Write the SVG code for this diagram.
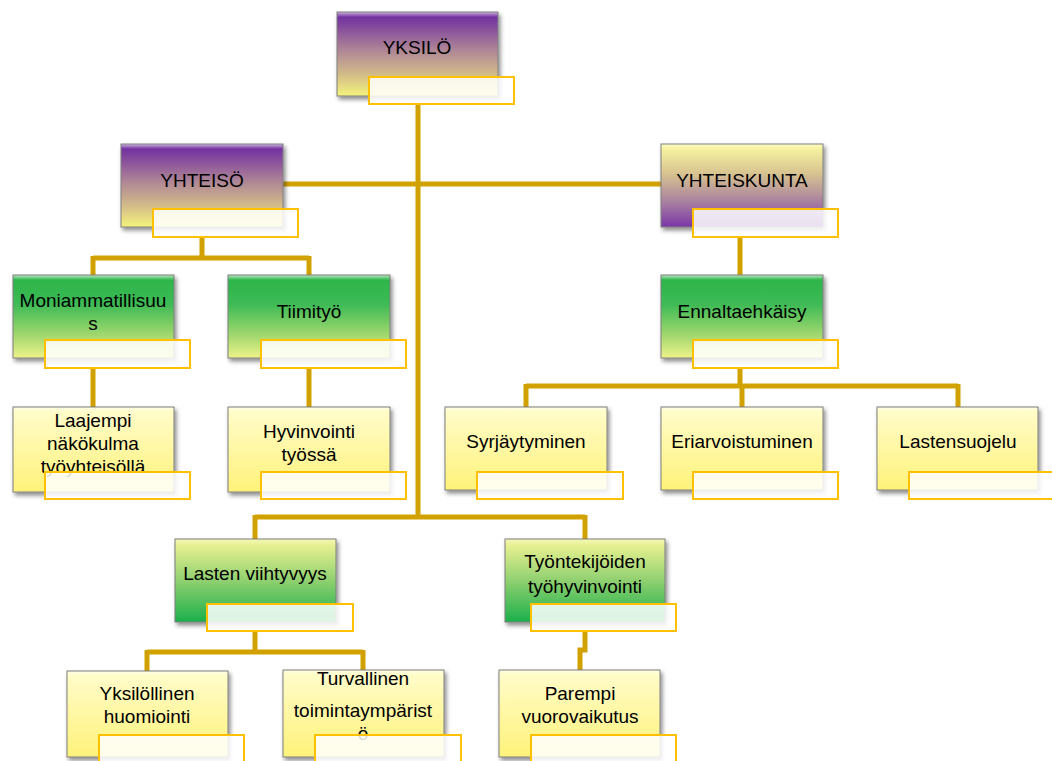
<svg xmlns="http://www.w3.org/2000/svg" width="1052" height="761" viewBox="0 0 1052 761">
<defs>
<linearGradient id="gPurDown" x1="0" y1="0" x2="0" y2="1">
<stop offset="0" stop-color="#CDB4DE"/><stop offset="0.06" stop-color="#7331A0"/><stop offset="0.45" stop-color="#AE8596"/><stop offset="0.75" stop-color="#D4BD88"/><stop offset="1" stop-color="#F4F47C"/>
</linearGradient>
<linearGradient id="gPurUp" x1="0" y1="0" x2="0" y2="1">
<stop offset="0" stop-color="#FCFBC4"/><stop offset="0.06" stop-color="#F6F2A0"/><stop offset="0.35" stop-color="#D8C490"/><stop offset="0.7" stop-color="#A880A0"/><stop offset="1" stop-color="#7A36A8"/>
</linearGradient>
<linearGradient id="gGrnDown" x1="0" y1="0" x2="0" y2="1">
<stop offset="0" stop-color="#BCE9C2"/><stop offset="0.06" stop-color="#2DB54A"/><stop offset="0.35" stop-color="#3DBA55"/><stop offset="0.75" stop-color="#A8DA70"/><stop offset="1" stop-color="#EEF38A"/>
</linearGradient>
<linearGradient id="gGrnUp" x1="0" y1="0" x2="0" y2="1">
<stop offset="0" stop-color="#F6F8B8"/><stop offset="0.08" stop-color="#E6F090"/><stop offset="0.5" stop-color="#90D070"/><stop offset="1" stop-color="#1AB04A"/>
</linearGradient>
<linearGradient id="gYel" x1="0" y1="0" x2="0" y2="1">
<stop offset="0" stop-color="#FFFEE4"/><stop offset="0.06" stop-color="#FFFCC8"/><stop offset="1" stop-color="#FFF27A"/>
</linearGradient>
<filter id="sh" x="-10%" y="-10%" width="125%" height="130%">
<feDropShadow dx="2" dy="3" stdDeviation="2" flood-color="#000" flood-opacity="0.45"/>
</filter>
</defs>
<style>
.box{stroke:#7F7F7F;stroke-width:1;filter:url(#sh)}
.pd{fill:url(#gPurDown)}
.pu{fill:url(#gPurUp)}
.gd{fill:url(#gGrnDown)}
.gu{fill:url(#gGrnUp)}
.ye{fill:url(#gYel)}
.lab{fill:#FFFFFF;fill-opacity:0.85;stroke:#FFC000;stroke-width:2}
.t{font-family:"Liberation Sans",Arial,sans-serif;font-size:19px;fill:#000;text-anchor:middle}
.c{fill:none;stroke:#D1A100;stroke-width:5;stroke-linejoin:miter}
</style>
<rect width="1052" height="761" fill="#FFFFFF"/>
<g id="connectors">
<path class="c" d="M418,104 V517"/>
<path class="c" d="M283,184 H661"/>
<path class="c" d="M202,237 V258 M93,258 H309 M93,256 V275 M309,256 V275"/>
<path class="c" d="M93,368 V407 M309,368 V407"/>
<path class="c" d="M740,237 V275"/>
<path class="c" d="M740,368 V386 M526,386 H958 M526,384 V407 M742,384 V407 M958,384 V407"/>
<path class="c" d="M255,517 H585 M255,515 V539 M585,515 V539"/>
<path class="c" d="M255,631 V652 M147,652 H363 M147,650 V671 M363,650 V671"/>
<path class="c" d="M585,631 V650 H580 V670"/>
</g>
<g id="yksilo">
<rect class="box pd" x="337" y="12" width="161" height="84"/>
<text class="t" x="417" y="54">YKSILÖ</text>
<rect class="lab" x="369" y="77" width="145" height="27"/>
</g>
<g id="yhteiso">
<rect class="box pd" x="121" y="144" width="162" height="83"/>
<text class="t" x="202" y="187">YHTEISÖ</text>
<rect class="lab" x="153" y="209" width="145" height="28"/>
</g>
<g id="yhteiskunta">
<rect class="box pu" x="661" y="144" width="162" height="83"/>
<text class="t" x="742" y="187">YHTEISKUNTA</text>
<rect class="lab" x="693" y="209" width="145" height="28"/>
</g>
<g id="moniammatillisuus">
<rect class="box gd" x="13" y="275" width="161" height="83"/>
<text class="t" x="93" y="307">Moniammatillisuu</text>
<text class="t" x="93" y="330">s</text>
<rect class="lab" x="45" y="340" width="145" height="28"/>
</g>
<g id="tiimityo">
<rect class="box gd" x="228" y="275" width="162" height="83"/>
<text class="t" x="309" y="318">Tiimityö</text>
<rect class="lab" x="261" y="340" width="145" height="28"/>
</g>
<g id="ennaltaehkaisy">
<rect class="box gd" x="661" y="275" width="162" height="83"/>
<text class="t" x="742" y="318">Ennaltaehkäisy</text>
<rect class="lab" x="693" y="340" width="145" height="28"/>
</g>
<g id="laajempi">
<rect class="box ye" x="13" y="407" width="161" height="85"/>
<text class="t" x="93" y="427">Laajempi</text>
<text class="t" x="93" y="450">näkökulma</text>
<text class="t" x="93" y="473">työyhteisöllä</text>
<rect class="lab" x="45" y="472" width="145" height="27"/>
</g>
<g id="hyvinvointi">
<rect class="box ye" x="228" y="407" width="162" height="85"/>
<text class="t" x="309" y="438">Hyvinvointi</text>
<text class="t" x="309" y="461">työssä</text>
<rect class="lab" x="261" y="472" width="145" height="27"/>
</g>
<g id="syrjaytyminen">
<rect class="box ye" x="445" y="407" width="162" height="83"/>
<text class="t" x="526" y="448">Syrjäytyminen</text>
<rect class="lab" x="477" y="472" width="146" height="27"/>
</g>
<g id="eriarvoistuminen">
<rect class="box ye" x="661" y="407" width="162" height="83"/>
<text class="t" x="742" y="448">Eriarvoistuminen</text>
<rect class="lab" x="693" y="472" width="145" height="27"/>
</g>
<g id="lastensuojelu">
<rect class="box ye" x="877" y="407" width="161" height="83"/>
<text class="t" x="958" y="448">Lastensuojelu</text>
<rect class="lab" x="909" y="472" width="145" height="27"/>
</g>
<g id="lasten-viihtyvyys">
<rect class="box gu" x="175" y="539" width="161" height="83"/>
<text class="t" x="255" y="580">Lasten viihtyvyys</text>
<rect class="lab" x="207" y="604" width="146" height="27"/>
</g>
<g id="tyontekijoiden">
<rect class="box gu" x="505" y="539" width="160" height="83"/>
<text class="t" x="585" y="568">Työntekijöiden</text>
<text class="t" x="585" y="593">työhyvinvointi</text>
<rect class="lab" x="531" y="604" width="145" height="27"/>
</g>
<g id="yksilollinen">
<rect class="box ye" x="67" y="671" width="161" height="86"/>
<text class="t" x="147" y="700">Yksilöllinen</text>
<text class="t" x="147" y="723">huomiointi</text>
<rect class="lab" x="99" y="735" width="145" height="30"/>
</g>
<g id="turvallinen">
<rect class="box ye" x="283" y="670" width="161" height="87"/>
<text class="t" x="363" y="685">Turvallinen</text>
<text class="t" x="363" y="717">toimintaympärist</text>
<text class="t" x="363" y="740">ö</text>
<rect class="lab" x="315" y="735" width="146" height="30"/>
</g>
<g id="parempi">
<rect class="box ye" x="499" y="670" width="161" height="87"/>
<text class="t" x="580" y="700">Parempi</text>
<text class="t" x="580" y="723">vuorovaikutus</text>
<rect class="lab" x="531" y="735" width="145" height="30"/>
</g>
</svg>
